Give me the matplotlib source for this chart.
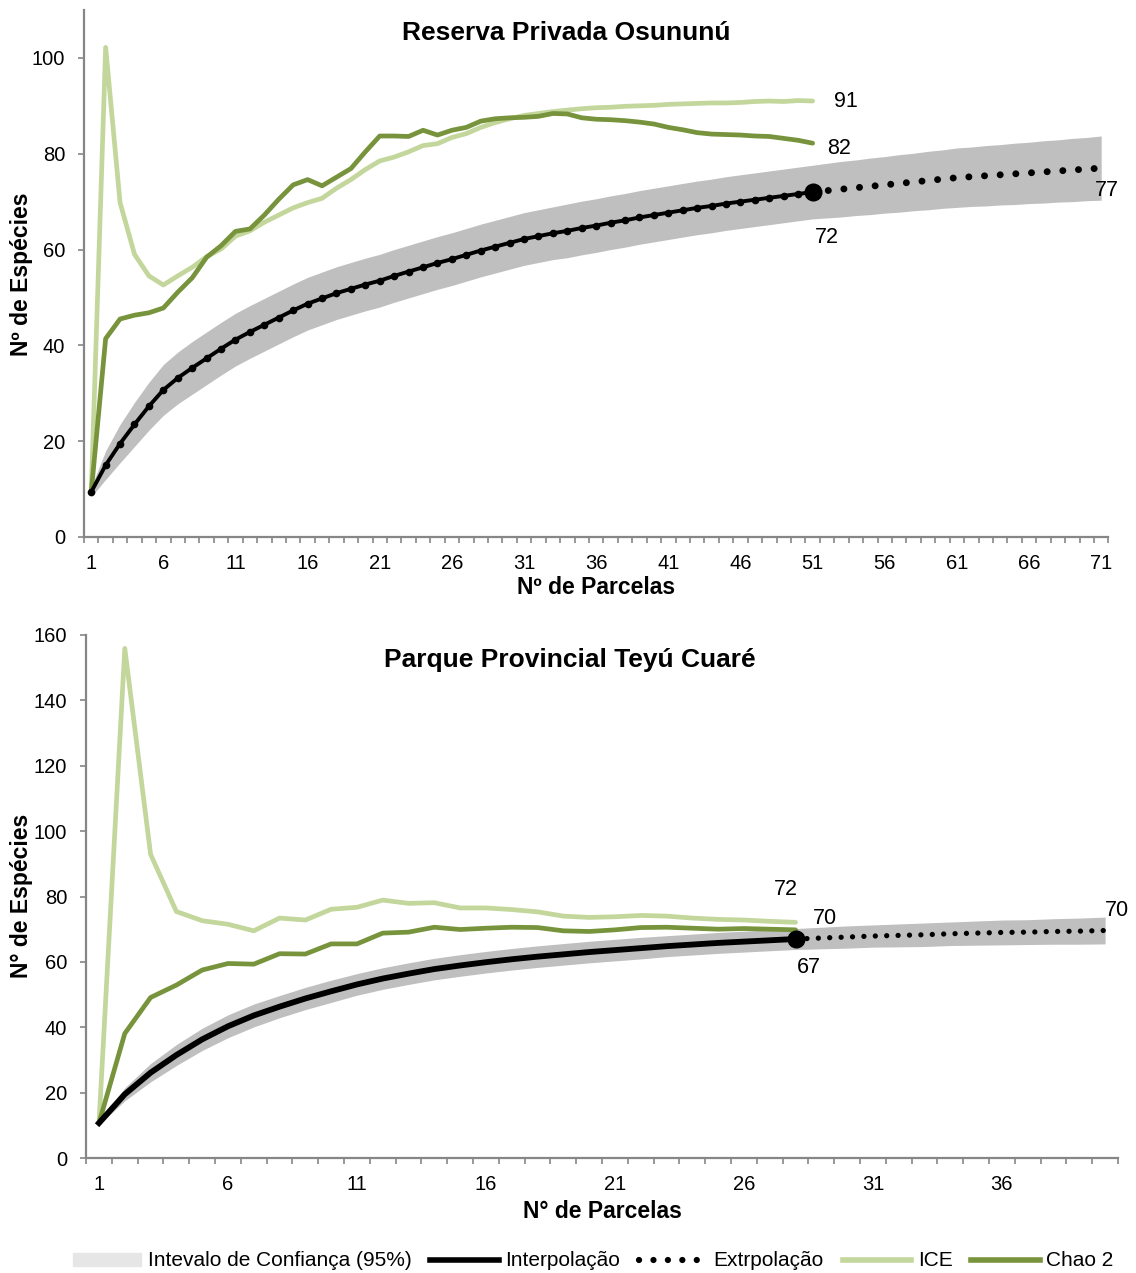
import numpy as np
import matplotlib
matplotlib.use("Agg")
import matplotlib.pyplot as plt
from matplotlib.lines import Line2D
from matplotlib.patches import Patch

plt.rcParams['font.family'] = ['Liberation Sans', 'DejaVu Sans']
plt.rcParams['hatch.color'] = '#c4c4c4'

# --- Reserva Privada Osununu ---
osu_interp = [9.4, 15.0, 19.5, 23.5, 27.3, 30.7, 33.2, 35.3, 37.3, 39.3,
              41.2, 42.8, 44.3, 45.8, 47.3, 48.7, 49.8, 50.9, 51.8, 52.7,
              53.5, 54.5, 55.4, 56.3, 57.2, 58.0, 58.9, 59.8, 60.6, 61.4,
              62.2, 62.8, 63.4, 63.9, 64.5, 65.0, 65.6, 66.1, 66.7, 67.2,
              67.7, 68.2, 68.7, 69.1, 69.6, 70.0, 70.4, 70.8, 71.2, 71.6, 72.0]
osu_extrap = [72.0, 72.3, 72.6, 72.9, 73.2, 73.5, 73.8, 74.1, 74.4, 74.7, 75.0,
              75.2, 75.4, 75.6, 75.8, 76.0, 76.2, 76.4, 76.6, 76.8, 77.0]
osu_ci_half = [1.0, 3.0, 4.0, 4.6, 5.0, 5.3, 5.4, 5.5, 5.5, 5.5,
               5.5, 5.5, 5.5, 5.5, 5.5, 5.5, 5.5, 5.5, 5.5, 5.5,
               5.5, 5.5, 5.5, 5.5, 5.5, 5.5, 5.5, 5.5, 5.5, 5.5,
               5.5, 5.5, 5.5, 5.6, 5.6, 5.6, 5.6, 5.6, 5.6, 5.6,
               5.6, 5.6, 5.6, 5.6, 5.6, 5.6, 5.6, 5.6, 5.6, 5.6,
               5.6, 5.7, 5.8, 5.8, 5.9, 5.9, 6.0, 6.0, 6.1, 6.1,
               6.2, 6.2, 6.3, 6.3, 6.4, 6.4, 6.5, 6.5, 6.6, 6.6, 6.7]
osu_ice = [9.3, 102.2, 69.8, 59.0, 54.5, 52.6, 54.5, 56.3, 58.5, 60.1,
           62.8, 63.9, 65.7, 67.2, 68.7, 69.8, 70.7, 72.8, 74.6, 76.7,
           78.5, 79.3, 80.4, 81.7, 82.1, 83.4, 84.2, 85.5, 86.5, 87.3,
           88.0, 88.4, 88.8, 89.1, 89.4, 89.6, 89.7, 89.9, 90.0, 90.1,
           90.3, 90.4, 90.5, 90.6, 90.6, 90.7, 90.9, 91.0, 90.9, 91.1, 91.0]
osu_chao = [9.3, 41.4, 45.5, 46.3, 46.8, 47.8, 51.1, 54.1, 58.4, 60.8,
            63.8, 64.3, 67.2, 70.5, 73.5, 74.6, 73.3, 75.1, 76.9, 80.4,
            83.7, 83.7, 83.6, 84.9, 83.9, 84.9, 85.5, 86.8, 87.3, 87.5,
            87.6, 87.8, 88.4, 88.3, 87.5, 87.2, 87.1, 86.9, 86.6, 86.2,
            85.5, 85.0, 84.4, 84.1, 84.0, 83.9, 83.7, 83.6, 83.2, 82.8, 82.2]

# --- Parque Provincial Teyu Cuare ---
tey_interp = [10.7, 19.5, 26.1, 31.5, 36.3, 40.3, 43.6, 46.3, 48.8, 51.0,
              53.1, 54.9, 56.4, 57.8, 58.9, 59.9, 60.8, 61.6, 62.3, 63.0,
              63.6, 64.2, 64.8, 65.3, 65.8, 66.2, 66.6, 67.0]
tey_extrap = [67.0, 67.3, 67.6, 67.9, 68.1, 68.3, 68.6, 68.8, 69.0, 69.1,
              69.3, 69.4, 69.6]
tey_ci_half = [0.5, 2.0, 2.8, 3.2, 3.4, 3.5, 3.5, 3.4, 3.4, 3.4,
               3.3, 3.3, 3.3, 3.3, 3.3, 3.3, 3.3, 3.3, 3.3, 3.3,
               3.3, 3.3, 3.2, 3.2, 3.2, 3.2, 3.2, 3.2, 3.3, 3.4,
               3.4, 3.5, 3.6, 3.6, 3.7, 3.8, 3.8, 3.9, 4.0, 4.1]
tey_ice = [10.7, 155.9, 92.9, 75.4, 72.6, 71.5, 69.5, 73.4, 72.8, 76.1,
           76.7, 78.9, 77.9, 78.1, 76.5, 76.5, 76.0, 75.3, 74.0, 73.6,
           73.8, 74.2, 74.0, 73.4, 73.0, 72.8, 72.4, 72.1]
tey_chao = [10.7, 38.1, 49.1, 52.9, 57.5, 59.5, 59.3, 62.5, 62.4, 65.5,
            65.5, 68.8, 69.1, 70.6, 69.9, 70.3, 70.6, 70.5, 69.5, 69.3,
            69.8, 70.5, 70.6, 70.3, 70.0, 70.2, 70.0, 69.8]

ICE_COLOR = '#c3d69b'
CHAO_COLOR = '#77933c'
BAND_COLOR = '#bfbfbf'
AXIS_COLOR = '#868686'

W, H = 1136, 1273
fig = plt.figure(figsize=(W / 100, H / 100), dpi=100)


def fx(px):
    return px / W


def fy(py):
    return 1 - py / H


def draw_panel(ax, interp, extrap, ci_half, ice, chao, n_max, ymax, ylab_max,
               big_lw, dot_lw, dot_gap, small_markers):
    n_obs = len(interp)
    x_all = np.arange(1, n_max + 1)
    center = np.array(interp[:-1] + extrap)
    half = np.array(ci_half)
    ax.fill_between(x_all, center - half, center + half, color=BAND_COLOR,
                    lw=0, zorder=1)

    x_obs = np.arange(1, n_obs + 1)
    ax.plot(x_obs, ice, color=ICE_COLOR, lw=3.4, zorder=2,
            solid_joinstyle='round', solid_capstyle='round')
    ax.plot(x_obs, chao, color=CHAO_COLOR, lw=3.4, zorder=3,
            solid_joinstyle='round', solid_capstyle='round')

    x_ext = np.arange(n_obs, n_max + 1)
    ax.plot(x_ext, extrap, color='black', lw=dot_lw,
            linestyle=(0, (0.01, dot_gap)), dash_capstyle='round', zorder=4)
    if small_markers:
        ax.plot(x_obs, interp, color='black', lw=big_lw, marker='o', ms=4.5,
                zorder=5)
    else:
        ax.plot(x_obs, interp, color='black', lw=big_lw, zorder=5)
    ax.plot([n_obs], [interp[-1]], 'o', color='black', ms=12, zorder=6)

    ax.set_xlim(0.5, n_max + 0.5)
    ax.set_ylim(0, ymax)
    ax.set_yticks(np.arange(0, ylab_max + 1, 20))
    ax.set_xticks(np.arange(1, n_max + 1, 5))
    ax.set_xticks(np.arange(0.5, n_max + 1, 1), minor=True)
    ax.tick_params(axis='x', which='major', length=0, pad=12, labelsize=14.5)
    ax.tick_params(axis='x', which='minor', length=4.5, width=1.2,
                   color=AXIS_COLOR, direction='out')
    ax.tick_params(axis='y', which='major', length=4.5, width=1.2,
                   color=AXIS_COLOR, pad=9, labelsize=14.5)
    for s in ('top', 'right'):
        ax.spines[s].set_visible(False)
    for s in ('left', 'bottom'):
        ax.spines[s].set_color(AXIS_COLOR)
        ax.spines[s].set_linewidth(1.6)


# top panel
ax1 = fig.add_axes([fx(84), fy(537), fx(1108.4 - 84), (537 - 10) / H])
draw_panel(ax1, osu_interp, osu_extrap, osu_ci_half, osu_ice, osu_chao,
           71, 110, 100, 2.8, 5.0, 2.25, True)

lab = dict(fontsize=15.5, ha='center', va='center', textcoords='offset pixels')
ax1.annotate('91', (51, osu_ice[-1]), xytext=(33, 0), **lab)
ax1.annotate('82', (51, osu_chao[-1]), xytext=(26, -5), **lab)
ax1.annotate('72', (51, osu_interp[-1]), xytext=(14, -45), **lab)
ax1.annotate('77', (71, osu_extrap[-1]), xytext=(6, -22), **lab)

# bottom panel
ax2 = fig.add_axes([fx(86.1), fy(1158), fx(1118 - 86.1), (1158 - 635) / H])
draw_panel(ax2, tey_interp, tey_extrap, tey_ci_half, tey_ice, tey_chao,
           40, 160, 160, 4.2, 3.8, 2.15, False)

ax2.annotate('72', (28, tey_ice[-1]), xytext=(-10, 33), **lab)
ax2.annotate('70', (28, tey_chao[-1]), xytext=(29, 11), **lab)
ax2.annotate('67', (28, tey_interp[-1]), xytext=(13, -29), **lab)
ax2.annotate('70', (40, tey_extrap[-1]), xytext=(12, 20), **lab)

# titles and axis labels
fig.text(fx(566), fy(33), 'Reserva Privada Osununú', fontsize=19,
         fontweight='bold', ha='center', va='center')
fig.text(fx(570), fy(660), 'Parque Provincial Teyú Cuaré', fontsize=19,
         fontweight='bold', ha='center', va='center')
fig.text(fx(596), fy(588), 'Nº de Parcelas', fontsize=16.5,
         fontweight='bold', ha='center', va='center')
fig.text(fx(602), fy(1211), 'N° de Parcelas', fontsize=16.5,
         fontweight='bold', ha='center', va='center')
fig.text(fx(22), fy(274), 'Nº de Espécies', fontsize=16.5,
         fontweight='bold', ha='center', va='center', rotation=90)
fig.text(fx(22), fy(896), 'N° de Espécies', fontsize=16.5,
         fontweight='bold', ha='center', va='center', rotation=90)

# legend
handles = [
    Patch(facecolor='#e6e6e6', edgecolor='#e6e6e6', hatch='|||'),
    Line2D([], [], color='black', lw=4),
    Line2D([], [], color='black', lw=4.5, linestyle=(0, (0.01, 2.3)),
           dash_capstyle='round'),
    Line2D([], [], color=ICE_COLOR, lw=4),
    Line2D([], [], color=CHAO_COLOR, lw=4),
]
labels = ['Intevalo de Confiança (95%)', 'Interpolação', 'Extrpolação',
          'ICE', 'Chao 2']
fig.legend(handles, labels, loc='center', bbox_to_anchor=(fx(593), fy(1261)),
           ncol=5, frameon=False, fontsize=15, handlelength=3.3,
           handleheight=0.6, handletextpad=0.3, columnspacing=0.9)

fig.savefig('out.png', dpi=100)
